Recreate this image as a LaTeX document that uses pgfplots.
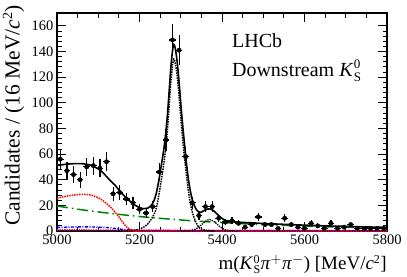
\documentclass[border=0pt]{standalone}
\usepackage{fontspec}
\setmainfont{Liberation Serif}
\usepackage{pgfplots}
\usepackage{pgfplotstable}
\pgfplotsset{compat=1.18}
\definecolor{rgreen}{rgb}{0.0,0.5,0.0}
\newcommand{\KS}{\textit{K}\kern0.02em$^{\mbox{\fontsize{13}{13}\selectfont 0}}_{\mbox{\fontsize{13}{13}\selectfont S}}$}
\newcommand{\KSs}{\textit{K}\kern0.02em$^{\mbox{\fontsize{12}{12}\selectfont 0}}_{\mbox{\fontsize{12}{12}\selectfont S}}$}
\pgfplotstableread{
x y ex ey
5008 56 8 7.5
5024 47 8 6.9
5040 44 8 6.6
5056 40 8 6.3
5072 50 8 7.1
5088 51 8 7.1
5104 49 8 7.0
5120 54 8 7.3
5136 29 8 5.4
5152 30 8 5.5
5168 25 8 5.0
5184 22 8 4.7
5200 17 8 4.1
5216 14 8 3.7
5232 19 8 4.4
5248 46 8 6.8
5264 71 8 8.4
5280 149 8 12.2
5296 141 8 11.9
5312 58 8 7.6
5328 22 8 4.7
5344 12 8 3.5
5360 19 8 4.4
5376 19 8 4.4
5392 10 8 3.2
5408 7 8 2.6
5424 8 8 2.8
5440 6 8 2.4
5456 3 8 1.7
5472 5 8 2.2
5488 11 8 3.3
5504 5 8 2.2
5520 5 8 2.2
5536 2 8 1.4
5552 10 8 3.2
5568 5 8 2.2
5584 3 8 1.7
5600 2 8 1.4
5616 6 8 2.4
5632 4 8 2.0
5648 2 8 1.4
5664 6 8 2.4
5680 2 8 1.4
5696 3 8 1.7
5712 5 8 2.2
5728 2 8 1.4
5744 2 8 1.4
5760 2 8 1.4
5776 2 8 1.4
5792 2 8 1.4
}\datatable
\begin{document}
\begin{tikzpicture}
\begin{axis}[
  scale only axis, width=330pt, height=218pt,
  xmin=5000, xmax=5800, ymin=0, ymax=170,
  xtick={5000,5200,...,5800}, ytick={0,20,...,160},
  minor x tick num=3, minor y tick num=4,
  tick align=inside, major tick length=9pt, minor tick length=4.5pt,
  axis line style={line width=1.1pt}, tick style={line width=0.8pt, black},
  /pgf/number format/assume math mode=true,
  /pgf/number format/1000 sep={},
  ticklabel style={font=\fontsize{14.5}{15}\selectfont},
  xticklabel style={yshift=-0.5pt},
  xlabel={m(\KSs\textit{π}$^{+}$\textit{π}$^{-}$) [MeV/\textit{c}$^{\mbox{\fontsize{12}{12}\selectfont 2}}$]},
  xlabel style={font=\fontsize{19}{21}\selectfont, at={(axis description cs:1,-0.108)}, anchor=north east, inner sep=0pt},
  ylabel={Candidates / (16 MeV/\textit{c}$^{\mbox{\fontsize{14}{14}\selectfont 2}}$)},
  ylabel style={font=\fontsize{21.5}{23}\selectfont, at={(axis description cs:-0.165,1.037)}, anchor=north east, inner sep=0pt},
  clip=true,
]
% magenta
\addplot[magenta, densely dotted, line width=1.4pt] coordinates {
(5000,0.9) (5100,0.8) (5200,0.7) (5300,0.6) (5400,0.55) (5500,0.5) (5600,0.45) (5700,0.4) (5800,0.35)};
% blue
\addplot[blue, dash pattern=on 3pt off 1.5pt on 1pt off 1.5pt, line width=1.4pt, smooth] coordinates {
(5000,2.8) (5025,3.0) (5050,3.2) (5075,3.2) (5100,3.0) (5120,2.7) (5140,2.0) (5160,1.2) (5180,0.7) (5200,0.4) (5250,0.25) (5300,0.15) (5400,0.1) (5800,0.05)};
% red
\addplot[red, densely dotted, line width=1.5pt, smooth] coordinates {
(5000,25.5) (5020,27) (5040,28) (5060,28.6) (5080,28.2) (5090,27.2) (5100,26) (5110,24) (5120,21.5) (5130,18.5) (5140,15) (5150,11) (5160,6.5) (5170,2.8) (5180,0.8) (5190,0.2) (5200,0) (5800,0)};
% green combinatorial
\addplot[rgreen, dash pattern=on 11pt off 4pt on 1.5pt off 4pt, line width=1.5pt, smooth] coordinates {
(5000,19.5) (5050,17.0) (5100,14.9) (5150,13.0) (5200,11.3) (5250,9.9) (5300,8.6) (5350,7.5) (5400,6.6) (5450,5.7) (5500,5.0) (5550,4.4) (5600,3.8) (5650,3.3) (5700,2.9) (5750,2.5) (5800,2.2)};
% Bs signal
\addplot[black, densely dotted, line width=1.3pt, smooth] coordinates {
(5300,0) (5314,0.07) (5322,0.26) (5330,0.76) (5338,1.85) (5346,3.7) (5354,5.9) (5362,7.9) (5370,9.0) (5378,7.9) (5386,5.9) (5394,3.7) (5402,1.85) (5410,0.76) (5418,0.26) (5426,0.07) (5440,0)};
% B0 signal
\addplot[black, densely dotted, line width=1.5pt, smooth] coordinates {
(5150,0) (5180,0.2) (5200,1.5) (5210,3) (5220,5.5) (5230,10) (5236,13.5) (5240,17) (5244,23) (5248,30) (5252,38) (5256,46) (5260,55) (5264,66) (5268,80) (5272,98) (5276,116) (5280,129) (5283,134) (5286,132) (5290,124.5) (5294,112.5) (5298,97) (5302,81) (5306,67) (5310,54.5) (5314,43) (5318,32.5) (5322,24) (5326,17.5) (5330,12.5) (5334,9) (5338,6) (5342,3.8) (5346,2.3) (5350,1.4) (5360,0.5) (5370,0.2) (5380,0)};
% total
\addplot[black, line width=1.6pt, smooth] coordinates {
(5000,51) (5020,52) (5040,52.5) (5060,52.5) (5080,51.5) (5100,48.5) (5110,46) (5120,42.5) (5130,39) (5140,36) (5150,32) (5160,28.5) (5170,25) (5180,22.5) (5190,20) (5200,18.3) (5210,17.4) (5220,17.8) (5230,20.5) (5236,24.5) (5240,28.5) (5244,34.5) (5248,41.5) (5252,49.5) (5256,57.5) (5260,66.5) (5264,77.5) (5268,91.5) (5272,109.5) (5276,127.5) (5280,140.5) (5283,145.5) (5286,143.5) (5290,135.5) (5294,123.5) (5298,108) (5302,92) (5306,78) (5310,65) (5314,52.4) (5318,41.8) (5322,33.4) (5326,27) (5330,22.3) (5334,19.1) (5338,16.7) (5342,15.2) (5346,14.6) (5350,14.75) (5360,16.5) (5370,17.3) (5380,15.7) (5390,12.65) (5400,9.8) (5410,8.2) (5420,7.45) (5430,7.1) (5440,6.85) (5460,6.55) (5480,6.25) (5500,5.85) (5550,5.2) (5600,4.55) (5650,4.0) (5700,3.6) (5750,3.15) (5800,2.8)};
% data
\addplot[black, only marks, mark=*, mark size=2.2pt,
  error bars/.cd, x dir=both, x explicit, y dir=both, y explicit,
  error mark=none, error bar style={line width=1.2pt, black}]
  table[x=x, y=y, x error=ex, y error=ey] {\datatable};
\node[anchor=base west, font=\fontsize{20}{22}\selectfont, inner sep=0pt] at (axis description cs:0.53,0.841) {LHCb};
\node[anchor=base west, font=\fontsize{20}{22}\selectfont, inner sep=0pt] at (axis description cs:0.53,0.711) {Downstream \KS};
\end{axis}
\pgfresetboundingbox
\path[use as bounding box] ([xshift=-57pt,yshift=-45pt]current axis.south west) rectangle ([xshift=20pt,yshift=13pt]current axis.north east);
\end{tikzpicture}
\end{document}
